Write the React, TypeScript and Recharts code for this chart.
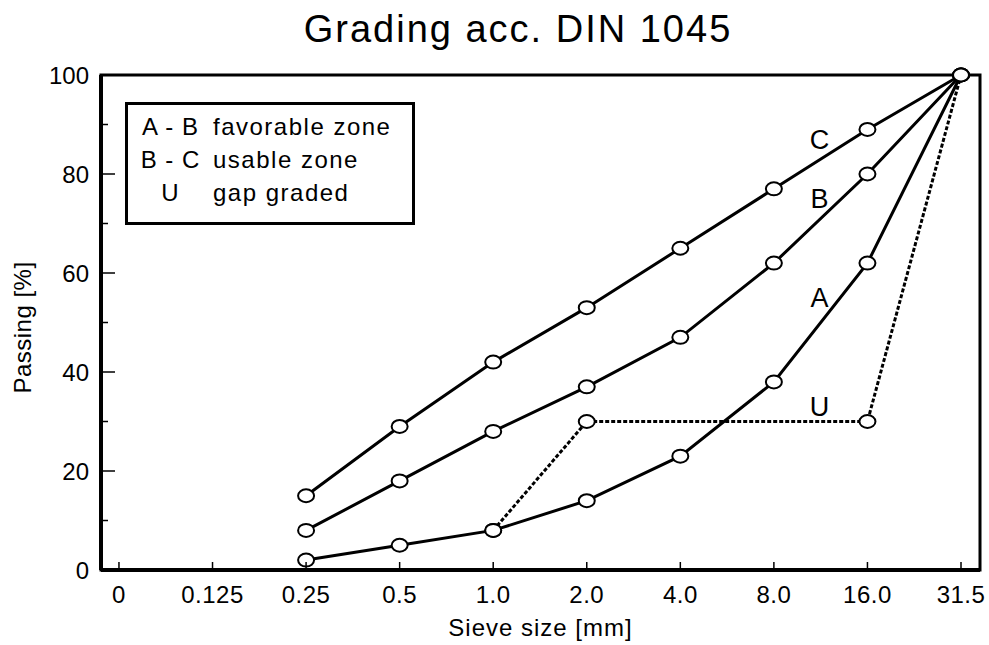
import { LineChart, Line, XAxis, YAxis, ReferenceArea, Legend, LabelList } from "recharts"

const sieveSizes = ["0", "0.125", "0.25", "0.5", "1.0", "2.0", "4.0", "8.0", "16.0", "31.5"]
const curveA = [null, null, 2, 5, 8, 14, 23, 38, 62, 100]
const curveB = [null, null, 8, 18, 28, 37, 47, 62, 80, 100]
const curveC = [null, null, 15, 29, 42, 53, 65, 77, 89, 100]
const curveU = [null, null, null, null, 8, 30, null, null, 30, 100]
const yTicks = [0, 10, 20, 30, 40, 50, 60, 70, 80, 90, 100]

const legendRows = [
  { key: "A - B", text: "favorable zone" },
  { key: "B - C", text: "usable zone" },
  { key: "U", text: "gap graded" },
]

const data = sieveSizes.map((size, i) => ({
  idx: i,
  size,
  A: curveA[i],
  B: curveB[i],
  C: curveC[i],
  U: curveU[i],
}))

const FONT = '"Liberation Sans", Arial, Helvetica, sans-serif'
const X_MIN = -0.192
const X_MAX = 9.203
const AXIS_X = 101

const OpenDot = (props: any) => {
  const { cx, cy, index, value } = props
  if (cx == null || cy == null || value == null) return <g key={`d-${index}`} />
  return (
    <ellipse key={`d-${index}`} cx={cx} cy={cy} rx={8} ry={6.5} fill="#fff" stroke="#000" strokeWidth={2} />
  )
}

// curve letter placed next to the 16.0 point
const curveLabel = (letter: string, dx: number, dy: number) => (props: any) => {
  const { x, y, index } = props
  if (index !== 8) return null
  return (
    <text x={x + dx} y={y + dy} textAnchor="middle" fontFamily={FONT} fontSize={27} fill="#000">
      {letter}
    </text>
  )
}

const XTick = (props: any) => {
  const { x, y, payload } = props
  return (
    <g>
      <line x1={x} y1={y - 2} x2={x} y2={y - 8} stroke="#000" strokeWidth={1.5} />
      <text x={x} y={y + 33} textAnchor="middle" fontFamily={FONT} fontSize={24} letterSpacing={0.5} fill="#000">
        {sieveSizes[payload.value]}
      </text>
    </g>
  )
}

const YTick = (props: any) => {
  const { y, payload } = props
  const major = payload.value % 20 === 0
  return (
    <g>
      <line x1={AXIS_X} y1={y} x2={AXIS_X + (major ? 14 : 7)} y2={y} stroke="#000" strokeWidth={1.5} />
      {major && (
        <text x={AXIS_X - 12} y={y} dy="0.36em" textAnchor="end" fontFamily={FONT} fontSize={24} fill="#000">
          {payload.value}
        </text>
      )}
    </g>
  )
}

const LegendBox = () => (
  <div
    style={{
      width: 290,
      height: 123,
      boxSizing: "border-box",
      border: "3px solid #000",
      background: "#fff",
      paddingTop: 5,
      fontFamily: FONT,
      fontSize: 24,
      letterSpacing: 1.5,
      color: "#000",
    }}
  >
    {legendRows.map((r) => (
      <div key={r.key} style={{ display: "flex", lineHeight: "33px", whiteSpace: "pre" }}>
        <span style={{ width: 85, textAlign: "center", letterSpacing: 1 }}>{r.key}</span>
        <span>{r.text}</span>
      </div>
    ))}
  </div>
)

export default function App() {
  return (
    <div style={{ position: "absolute", left: 0, top: 0, background: "#fff" }}>
      <LineChart width={989} height={645} data={data} margin={{ top: 75, right: 9, bottom: 0, left: 0 }}>
        <text x={518} y={42} textAnchor="middle" fontFamily={FONT} fontSize={38} letterSpacing={2} fill="#000">
          Grading acc. DIN 1045
        </text>
        <XAxis
          dataKey="idx"
          type="number"
          domain={[X_MIN, X_MAX]}
          ticks={[0, 1, 2, 3, 4, 5, 6, 7, 8, 9]}
          allowDataOverflow
          height={75}
          tickSize={0}
          tickMargin={0}
          tickLine={false}
          tick={<XTick />}
          axisLine={{ stroke: "#000", strokeWidth: 4 }}
          label={{
            value: "Sieve size [mm]",
            position: "insideBottom",
            offset: 9,
            fontFamily: FONT,
            fontSize: 24,
            letterSpacing: 1,
            fill: "#000",
          }}
        />
        <YAxis
          type="number"
          domain={[0, 100]}
          ticks={yTicks}
          width={AXIS_X}
          tickSize={0}
          tickMargin={0}
          tickLine={false}
          tick={<YTick />}
          axisLine={{ stroke: "#000", strokeWidth: 4 }}
          label={{
            value: "Passing [%]",
            angle: -90,
            position: "center",
            dx: -28,
            dy: 5,
            fontFamily: FONT,
            fontSize: 24,
            letterSpacing: 0.5,
            fill: "#000",
          }}
        />
        <ReferenceArea x1={X_MIN} x2={X_MAX} y1={0} y2={100} fill="none" stroke="#000" strokeWidth={3} />
        <Legend
          layout="horizontal"
          verticalAlign="middle"
          align="center"
          content={<LegendBox />}
          wrapperStyle={{ position: "absolute", left: 125, top: 102, width: 290, height: 123 }}
        />
        <Line
          dataKey="U"
          type="linear"
          stroke="#000"
          strokeWidth={3}
          strokeDasharray="4 2"
          connectNulls
          dot={<OpenDot />}
          activeDot={false}
          isAnimationActive={false}
        >
          <LabelList content={curveLabel("U", -48, -6)} />
        </Line>
        <Line dataKey="A" type="linear" stroke="#000" strokeWidth={3} dot={<OpenDot />} activeDot={false} isAnimationActive={false}>
          <LabelList content={curveLabel("A", -48, 44)} />
        </Line>
        <Line dataKey="B" type="linear" stroke="#000" strokeWidth={3} dot={<OpenDot />} activeDot={false} isAnimationActive={false}>
          <LabelList content={curveLabel("B", -48, 34)} />
        </Line>
        <Line dataKey="C" type="linear" stroke="#000" strokeWidth={3} dot={<OpenDot />} activeDot={false} isAnimationActive={false}>
          <LabelList content={curveLabel("C", -48, 20)} />
        </Line>
      </LineChart>
    </div>
  )
}
